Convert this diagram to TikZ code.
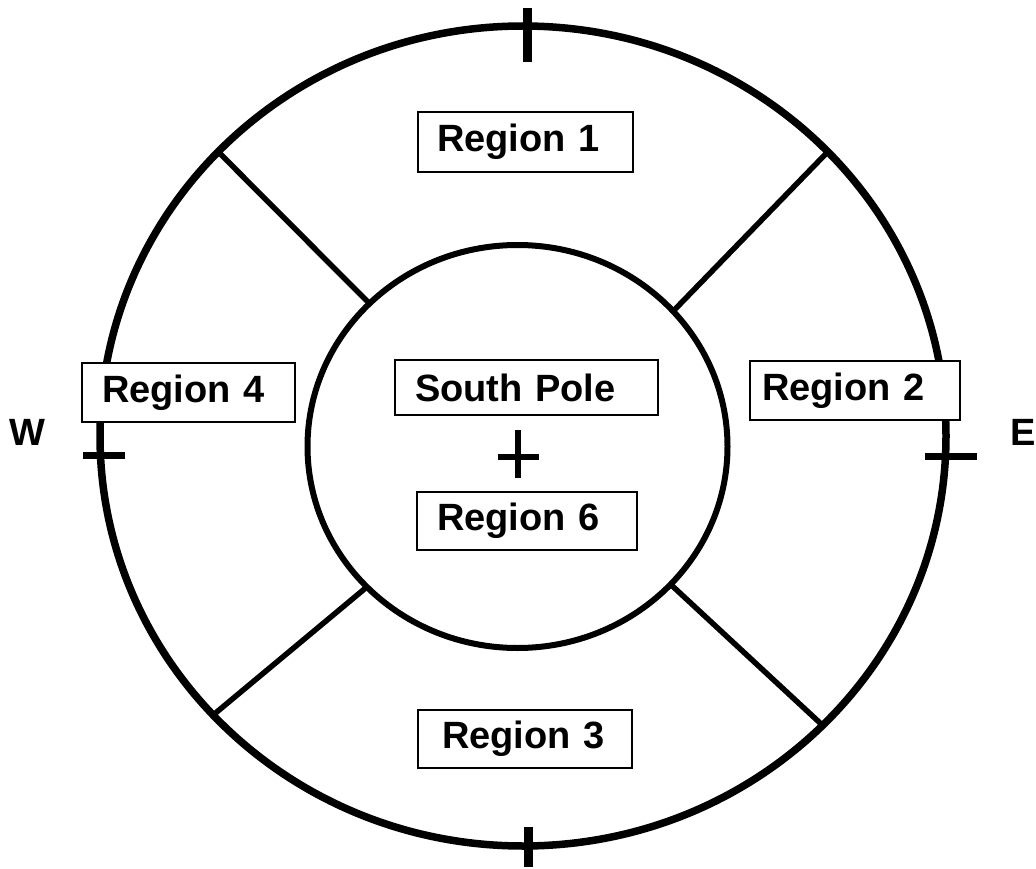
\documentclass[tikz,border=0pt]{standalone}
\usepackage{fontspec}
\setmainfont{Liberation Sans}
\usetikzlibrary{shapes.geometric}
\tikzset{
  ring/.style={draw, ellipse, inner sep=0pt, outer sep=0pt},
  divider/.style={line width=5.5pt},
  tick/.style={line width=9pt},
  sidetick/.style={line width=7pt},
  box/.style={draw, line width=2.4pt, fill=white, anchor=west, align=left,
    outer sep=0pt, inner ysep=0pt, font=\fontsize{38}{40}\selectfont\bfseries},
  lbl/.style={font=\fontsize{38}{40}\selectfont\bfseries, inner sep=0pt}
}
\begin{document}
\begin{tikzpicture}[x=1pt,y=-1pt]
\useasboundingbox[fill=white] (0,0) rectangle (1036,869);
% rings
\node[ring, line width=7.5pt, minimum width=846pt, minimum height=820pt] (outer) at (523,436) {};
\node[ring, line width=6pt, minimum width=420pt, minimum height=403pt] (inner) at (517.5,446.5) {};
% dividers
\draw[divider] (inner.136.6) -- (outer.137);
\draw[divider] (inner.41.6) -- (outer.43.5);
\draw[divider] (inner.223.6) -- (outer.222.4);
\draw[divider] (inner.318) -- (outer.316.8);
% ticks
\draw[tick] (527,8) -- (527,62);
\draw[tick] (528,827) -- (528,867);
\draw[sidetick] (83,455) -- (125,455);
\draw[sidetick] (925,456) -- (977,456);
% centre cross
\draw[line width=6pt] (498,457) -- (539,457);
\draw[line width=6pt] (518,430) -- (518,478);
% boxes
\node[box, text width=177pt, inner xsep=19pt, minimum height=60pt] (r1) at (418,142) {Region 1};
\node[box, text width=166pt, inner xsep=24pt, minimum height=58pt] (r3) at (418,739) {Region 3};
\node[box, text width=173pt, inner xsep=20pt, minimum height=59pt] (r4) at (82,392.5) {Region 4};
\node[box, text width=186pt, inner xsep=12pt, minimum height=59pt] (r2) at (750,390.5) {Region 2};
\node[box, text width=223pt, inner xsep=20pt, minimum height=55pt] (sp) at (395,387.5) {South Pole};
\node[box, text width=180pt, inner xsep=20pt, minimum height=58pt] (r6) at (417,521) {Region 6};
% compass letters
\node[lbl] (w) at (27,432) {W};
\node[lbl] (e) at (1023,432) {E};
\end{tikzpicture}
\end{document}
